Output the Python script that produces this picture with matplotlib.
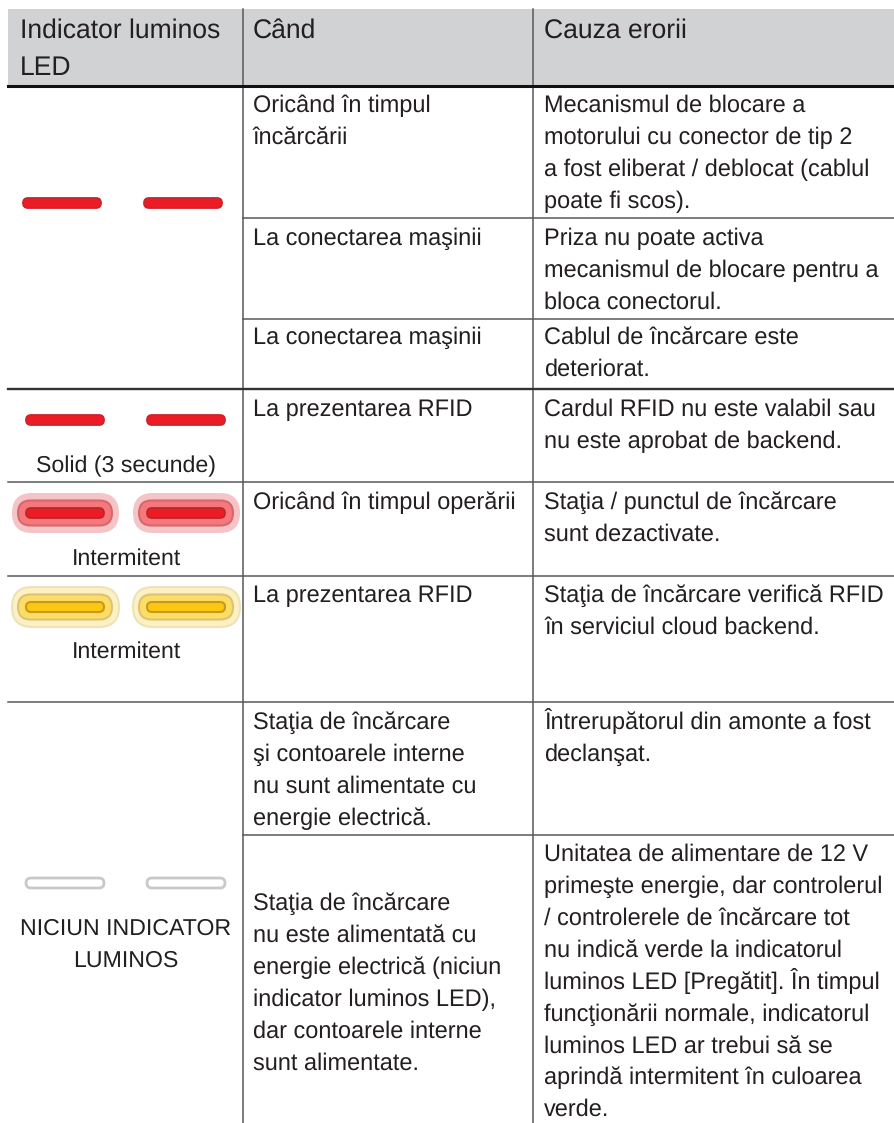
import matplotlib
matplotlib.use("Agg")
import matplotlib.pyplot as plt
from matplotlib.patches import FancyBboxPatch, Rectangle

plt.rcParams['font.family'] = ['Liberation Sans', 'DejaVu Sans']
plt.rcParams['text.hinting'] = 'none'

header_labels = [["Indicator luminos", "LED"], ["Când"], ["Cauza erorii"]]

when_texts = [
    ["Oricând în timpul", "încărcării"],
    ["La conectarea maşinii"],
    ["La conectarea maşinii"],
    ["La prezentarea RFID"],
    ["Oricând în timpul operării"],
    ["La prezentarea RFID"],
    ["Staţia de încărcare", "şi contoarele interne", "nu sunt alimentate cu", "energie electrică."],
    ["Staţia de încărcare", "nu este alimentată cu", "energie electrică (niciun", "indicator luminos LED),", "dar contoarele interne", "sunt alimentate."],
]
cause_texts = [
    ["Mecanismul de blocare a", "motorului cu conector de tip 2", "a fost eliberat / deblocat (cablul", "poate fi scos)."],
    ["Priza nu poate activa", "mecanismul de blocare pentru a", "bloca conectorul."],
    ["Cablul de încărcare este", "deteriorat."],
    ["Cardul RFID nu este valabil sau", "nu este aprobat de backend."],
    ["Staţia / punctul de încărcare", "sunt dezactivate."],
    ["Staţia de încărcare verifică RFID", "în serviciul cloud backend."],
    ["Întrerupătorul din amonte a fost", "declanşat."],
    ["Unitatea de alimentare de 12 V", "primeşte energie, dar controlerul", "/ controlerele de încărcare tot", "nu indică verde la indicatorul", "luminos LED [Pregătit]. În timpul", "funcţionării normale, indicatorul", "luminos LED ar trebui să se", "aprindă intermitent în culoarea", "verde."],
]
when_first_baseline = [112, 245, 344, 416, 509, 602, 729, 910]
cause_first_baseline = [112, 245, 344, 416, 509, 602, 729, 861]

led_labels = ["Solid (3 secunde)", "Intermitent", "Intermitent"]
led_label_baseline = [472, 565, 658]
none_label = ["NICIUN INDICATOR", "LUMINOS"]

TEXT = "#231f20"
LINE = "#58595b"
BODY = 16.95
LABEL = 16.7
HEAD = 19.1
LEAD = 32

fig = plt.figure(figsize=(8.94, 11.23), dpi=100)
ax = fig.add_axes([0, 0, 1, 1])
ax.set_xlim(0, 894)
ax.set_ylim(1123, 0)
ax.axis("off")


def pill(x0, x1, yc, halfh, fc, ec=None, lw=0, z=3):
    r = halfh
    p = FancyBboxPatch((x0 + r, yc), x1 - x0 - 2 * r, 0,
                       boxstyle="round,pad=%f,rounding_size=%f" % (r, r),
                       fc=fc, ec=ec if ec else "none", lw=lw, zorder=z)
    ax.add_patch(p)


def led(x0, yc, core, edge, lw=1.3, mid=None, mid_edge=None, outer=None, outer_edge=None):
    x1 = x0 + 78
    if outer:
        pill(x0 - 14, x1 + 15, yc, 20, outer, outer_edge, 1.5, 2)
    if mid:
        pill(x0 - 8, x1 + 8, yc, 12.5, mid, mid_edge, 1.5, 3)
    pill(x0, x1, yc, 5, core, edge, lw, 4)


# header
ax.add_patch(Rectangle((8, 9), 886, 76, fc="#d1d2d4", ec="none", zorder=0))
for i, line in enumerate(header_labels[0]):
    ax.text(19.5, 38 + i * 37, line, fontsize=HEAD, color=TEXT)
ax.text(253, 38, header_labels[1][0], fontsize=HEAD, color=TEXT)
ax.text(544, 38, header_labels[2][0], fontsize=HEAD, color=TEXT)

# grid lines
ax.plot([243, 243], [9, 1123], color=LINE, lw=1.1, zorder=1)
ax.plot([533, 533], [9, 1123], color=LINE, lw=1.1, zorder=1)
ax.plot([8, 894], [85.5, 85.5], color="#111111", lw=2.2, zorder=1)
for y in [218, 319, 835]:
    ax.plot([243, 894], [y, y], color=LINE, lw=1.1, zorder=1)
ax.plot([8, 894], [388.5, 388.5], color="#333333", lw=1.7, zorder=1)
for y in [482, 576, 702]:
    ax.plot([8, 894], [y, y], color=LINE, lw=1.1, zorder=1)

# cells
for lines, y0 in zip(when_texts, when_first_baseline):
    for i, line in enumerate(lines):
        ax.text(253, y0 + i * LEAD, line, fontsize=BODY, color=TEXT)
for lines, y0 in zip(cause_texts, cause_first_baseline):
    for i, line in enumerate(lines):
        ax.text(544, y0 + i * 31.9, line, fontsize=BODY, color=TEXT)

for label, y in zip(led_labels, led_label_baseline):
    ax.text(126, y, label, fontsize=LABEL, color=TEXT, ha="center")
for i, line in enumerate(none_label):
    ax.text(126, 935 + i * LEAD, line, fontsize=LABEL, color=TEXT, ha="center")

# LEDs
for x0 in [23, 144]:
    led(x0, 203, "#ed1c24", "#c9252c")
for x0 in [26, 147]:
    led(x0, 420, "#ed1c24", "#c9252c")
    led(x0, 513, "#ed1c24", "#b9272d", 1.3, "#f6787c", "#d4686c", "#f5c4c6")
    led(x0, 607, "#fdc70f", "#c29a20", 1.5, "#fedd66", "#dcc274", "#fdf0c2", "#eee2b8")
    led(x0, 883, "#ffffff", "#c8c9cb", 2.0)

fig.savefig("out.png", dpi=100)
